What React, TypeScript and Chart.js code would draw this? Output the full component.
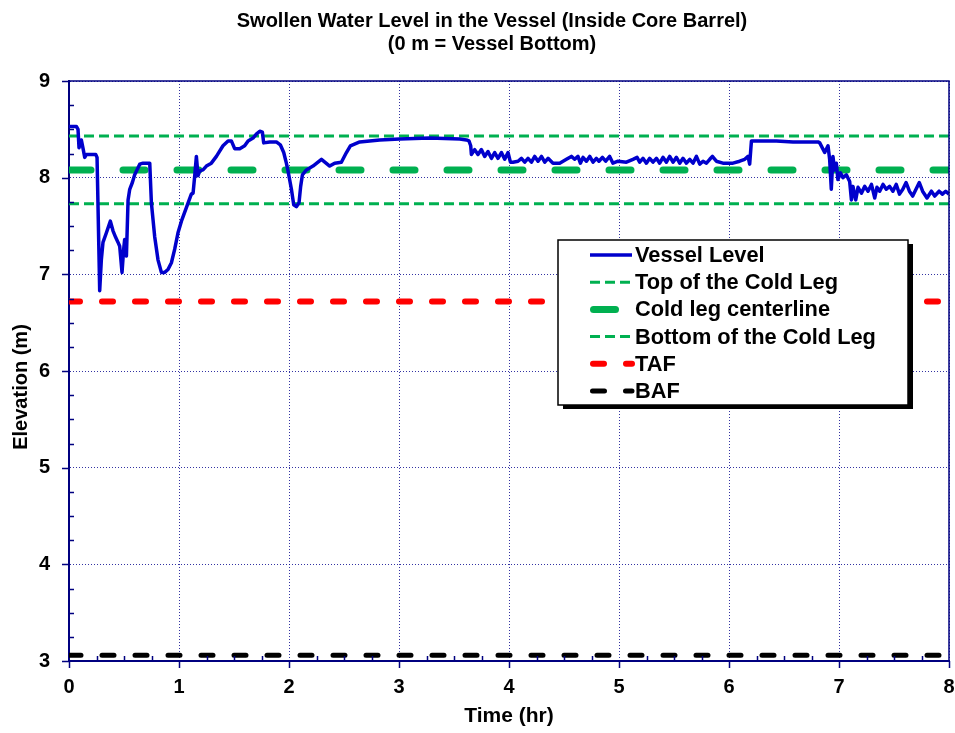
import React, { useEffect, useRef } from "react";
import { Chart, registerables } from "chart.js";

Chart.register(...registerables);

const FONT = "'Liberation Sans', Arial, Helvetica, sans-serif";

// ---- text ----
const titleLines = ["Swollen Water Level in the Vessel (Inside Core Barrel)", "(0 m = Vessel Bottom)"];
const xAxisTitle = "Time (hr)";
const yAxisTitle = "Elevation (m)";
const seriesLabels = [
  "Vessel Level",
  "Top of the Cold Leg",
  "Cold leg centerline",
  "Bottom of the Cold Leg",
  "TAF",
  "BAF",
];

// ---- axes ----
const xRange = [0, 8];
const yRange = [3, 9];
const majorStep = 1;
const minorStep = 0.25;

// ---- reference elevations (m) ----
const topColdLeg = 8.43;
const coldLegCenter = 8.08;
const bottomColdLeg = 7.73;
const tafLevel = 6.72;
const bafLevel = 3.06;

// ---- vessel swollen level: time (hr) / elevation (m) ----
const timeHr = [
  0, 0.067, 0.082, 0.091, 0.112, 0.128, 0.143, 0.158, 0.243, 0.255,
  0.279, 0.294, 0.309, 0.34, 0.376, 0.4, 0.425, 0.446, 0.461, 0.482,
  0.497, 0.506, 0.522, 0.537, 0.552, 0.576, 0.597, 0.643, 0.673, 0.734,
  0.749, 0.779, 0.809, 0.84, 0.87, 0.9, 0.931, 0.961, 0.991, 1.022,
  1.067, 1.112, 1.128, 1.143, 1.158, 1.173, 1.188, 1.218, 1.249, 1.294,
  1.34, 1.4, 1.446, 1.476, 1.506, 1.552, 1.597, 1.628, 1.673, 1.703,
  1.734, 1.758, 1.77, 1.825, 1.885, 1.921, 1.952, 1.976, 1.991, 2.022,
  2.043, 2.067, 2.091, 2.106, 2.122, 2.158, 2.218, 2.295, 2.37, 2.415,
  2.476, 2.522, 2.558, 2.643, 2.825, 3.006, 3.279, 3.552, 3.613, 3.636,
  3.652, 3.658, 3.688, 3.718, 3.749, 3.779, 3.809, 3.84, 3.87, 3.9,
  3.931, 3.961, 3.991, 4.013, 4.036, 4.082, 4.113, 4.143, 4.173, 4.204,
  4.234, 4.264, 4.295, 4.325, 4.355, 4.4, 4.461, 4.522, 4.567, 4.597,
  4.627, 4.649, 4.673, 4.704, 4.734, 4.764, 4.794, 4.818, 4.849, 4.879,
  4.915, 4.945, 4.991, 5.067, 5.127, 5.164, 5.188, 5.218, 5.249, 5.279,
  5.309, 5.34, 5.37, 5.4, 5.431, 5.461, 5.491, 5.522, 5.552, 5.582,
  5.613, 5.643, 5.673, 5.704, 5.734, 5.764, 5.795, 5.825, 5.849, 5.885,
  5.945, 6.036, 6.097, 6.143, 6.173, 6.188, 6.204, 6.431, 6.582, 6.809,
  6.825, 6.87, 6.9, 6.915, 6.93, 6.945, 6.96, 6.976, 6.99, 7.013,
  7.036, 7.067, 7.097, 7.113, 7.127, 7.152, 7.173, 7.204, 7.234, 7.264,
  7.295, 7.325, 7.345, 7.37, 7.4, 7.43, 7.46, 7.49, 7.52, 7.55,
  7.58, 7.61, 7.64, 7.67, 7.7, 7.73, 7.76, 7.8, 7.84, 7.87,
  7.91, 7.94, 7.97, 8.0,
];
const vesselLevel = [
  8.53, 8.53, 8.5, 8.31, 8.39, 8.3, 8.21, 8.24, 8.24, 8.21,
  6.83, 7.15, 7.33, 7.43, 7.55, 7.45, 7.38, 7.33, 7.29, 7.02,
  7.26, 7.36, 7.19, 7.77, 7.88, 7.95, 8.03, 8.14, 8.15, 8.15,
  7.74, 7.39, 7.15, 7.02, 7.02, 7.05, 7.12, 7.26, 7.43, 7.55,
  7.69, 7.83, 7.84, 8.02, 8.22, 8.02, 8.07, 8.08, 8.12, 8.15,
  8.22, 8.33, 8.38, 8.38, 8.3, 8.3, 8.33, 8.38, 8.41, 8.45,
  8.48, 8.47, 8.36, 8.37, 8.37, 8.34, 8.26, 8.15, 8.07, 7.88,
  7.72, 7.7, 7.74, 7.91, 8.03, 8.08, 8.12, 8.19, 8.12, 8.15,
  8.16, 8.26, 8.33, 8.37, 8.39, 8.4, 8.41, 8.4, 8.39, 8.38,
  8.33, 8.24, 8.29, 8.24, 8.29, 8.22, 8.27, 8.2, 8.26, 8.2,
  8.26, 8.19, 8.26, 8.16, 8.16, 8.17, 8.2, 8.16, 8.2, 8.16,
  8.22, 8.17, 8.22, 8.16, 8.2, 8.15, 8.15, 8.19, 8.22, 8.19,
  8.22, 8.15, 8.21, 8.17, 8.22, 8.16, 8.2, 8.17, 8.21, 8.17,
  8.22, 8.15, 8.17, 8.16, 8.19, 8.21, 8.16, 8.2, 8.15, 8.2,
  8.16, 8.2, 8.15, 8.21, 8.16, 8.22, 8.16, 8.21, 8.15, 8.2,
  8.15, 8.19, 8.15, 8.22, 8.14, 8.17, 8.15, 8.19, 8.22, 8.17,
  8.15, 8.15, 8.17, 8.19, 8.22, 8.14, 8.38, 8.38, 8.37, 8.37,
  8.36, 8.26, 8.33, 8.19, 7.88, 8.22, 8.08, 8.15, 7.98, 8.05,
  8.0, 8.03, 7.96, 7.77, 7.91, 7.77, 7.9, 7.84, 7.91, 7.86,
  7.93, 7.79, 7.9, 7.86, 7.93, 7.88, 7.91, 7.86, 7.93, 7.83,
  7.88, 7.95, 7.86, 7.81, 7.88, 7.95, 7.86, 7.79, 7.86, 7.81,
  7.86, 7.83, 7.86, 7.83,
];

// ---- styles ----
const AXIS_COLOR = "#000080";
const GRID_COLOR = "rgba(0,0,140,0.8)";
const BLUE = "#0000CC";
const GREEN = "#00B050";
const RED = "#FF0000";
const BLACK = "#000000";

const flatLine = (v: number) => [
  { x: xRange[0], y: v },
  { x: xRange[1], y: v },
];

const decorPlugin = {
  id: "decor",
  afterDraw(chart: any) {
    const { ctx, chartArea: ca } = chart;
    const xs = chart.scales.x;
    const ys = chart.scales.y;
    ctx.save();

    // frame (top & right)
    ctx.strokeStyle = AXIS_COLOR;
    ctx.lineWidth = 1.5;
    ctx.beginPath();
    ctx.moveTo(ca.left, ca.top);
    ctx.lineTo(ca.right, ca.top);
    ctx.lineTo(ca.right, ca.bottom);
    ctx.stroke();

    // tick marks
    ctx.lineWidth = 1.5;
    ctx.beginPath();
    for (let v = yRange[0]; v <= yRange[1] + 1e-9; v += minorStep) {
      const py = Math.round(ys.getPixelForValue(v)) + 0.5;
      const major = Math.abs(v - Math.round(v)) < 1e-6;
      if (major) {
        ctx.moveTo(ca.left - 7, py);
        ctx.lineTo(ca.left, py);
      } else {
        ctx.moveTo(ca.left, py);
        ctx.lineTo(ca.left + 5, py);
      }
    }
    for (let v = xRange[0]; v <= xRange[1] + 1e-9; v += minorStep) {
      const px = Math.round(xs.getPixelForValue(v)) + 0.5;
      const major = Math.abs(v - Math.round(v)) < 1e-6;
      if (major) {
        ctx.moveTo(px, ca.bottom);
        ctx.lineTo(px, ca.bottom + 7);
      } else {
        ctx.moveTo(px, ca.bottom);
        ctx.lineTo(px, ca.bottom - 5);
      }
    }
    ctx.stroke();

    // chart title
    ctx.fillStyle = "#000";
    ctx.font = `bold 20px ${FONT}`;
    ctx.textAlign = "center";
    ctx.textBaseline = "middle";
    ctx.fillText(titleLines[0], 492, 21.5);
    ctx.fillText(titleLines[1], 492, 44);

    // y axis title
    ctx.save();
    ctx.translate(21, 387);
    ctx.rotate(-Math.PI / 2);
    ctx.font = `bold 20px ${FONT}`;
    ctx.fillText(yAxisTitle, 0, 0);
    ctx.restore();

    // legend box
    const box = { left: 558, top: 240, width: 350, height: 165 };
    ctx.fillStyle = "#000";
    ctx.fillRect(box.left + 5, box.top + 4, box.width, box.height);
    ctx.fillStyle = "#fff";
    ctx.fillRect(box.left, box.top, box.width, box.height);
    ctx.strokeStyle = "#000";
    ctx.lineWidth = 1.5;
    ctx.setLineDash([]);
    ctx.strokeRect(box.left, box.top, box.width, box.height);

    chart.data.datasets.forEach((ds: any, i: number) => {
      const cy = 255 + i * 27.2;
      ctx.save();
      ctx.strokeStyle = ds.borderColor;
      ctx.lineWidth = ds.borderWidth;
      ctx.setLineDash(ds.borderDash || []);
      ctx.lineCap = ds.borderCapStyle || "butt";
      const cap = ds.borderCapStyle === "round" ? ds.borderWidth / 2 : 0;
      ctx.beginPath();
      ctx.moveTo(590 + cap, cy);
      ctx.lineTo(632, cy);
      ctx.stroke();
      ctx.restore();
      ctx.fillStyle = "#000";
      ctx.font = `bold 21.8px ${FONT}`;
      ctx.textAlign = "left";
      ctx.textBaseline = "middle";
      ctx.fillText(ds.label, 635, cy + 1);
    });

    ctx.restore();
  },
};

export default function App() {
  const ref = useRef<HTMLCanvasElement>(null);

  useEffect(() => {
    if (!ref.current) return;
    const chart = new Chart(ref.current, {
      type: "line",
      data: {
        datasets: [
          {
            label: seriesLabels[0],
            data: timeHr.map((t, i) => ({ x: t, y: vesselLevel[i] })),
            borderColor: BLUE,
            borderWidth: 3.5,
            borderJoinStyle: "round",
            borderCapStyle: "butt",
            pointRadius: 0,
            tension: 0,
          },
          {
            label: seriesLabels[1],
            data: flatLine(topColdLeg),
            borderColor: GREEN,
            borderWidth: 3,
            borderDash: [10, 5],
            pointRadius: 0,
          },
          {
            label: seriesLabels[2],
            data: flatLine(coldLegCenter),
            borderColor: GREEN,
            borderWidth: 7,
            borderDash: [22, 32],
            borderCapStyle: "round",
            pointRadius: 0,
          },
          {
            label: seriesLabels[3],
            data: flatLine(bottomColdLeg),
            borderColor: GREEN,
            borderWidth: 3,
            borderDash: [10, 5],
            pointRadius: 0,
          },
          {
            label: seriesLabels[4],
            data: flatLine(tafLevel),
            borderColor: RED,
            borderWidth: 6,
            borderDash: [11, 22],
            borderCapStyle: "round",
            pointRadius: 0,
          },
          {
            label: seriesLabels[5],
            data: flatLine(bafLevel),
            borderColor: BLACK,
            borderWidth: 5,
            borderDash: [12, 21],
            borderCapStyle: "round",
            pointRadius: 0,
          },
        ] as any,
      },
      options: {
        responsive: false,
        devicePixelRatio: 1,
        animation: false,
        events: [],
        layout: { padding: { top: 81, right: 6, bottom: 0, left: 0 } },
        plugins: {
          legend: { display: false },
          title: { display: false },
          tooltip: { enabled: false },
        },
        scales: {
          x: {
            type: "linear",
            min: xRange[0],
            max: xRange[1],
            afterFit: (s: any) => {
              s.height = 72;
              s.paddingLeft = 0;
              s.paddingRight = 0;
            },
            ticks: {
              stepSize: majorStep,
              autoSkip: false,
              padding: 14,
              color: "#000",
              font: { family: FONT, size: 20, weight: "bold" },
            },
            grid: { color: GRID_COLOR, lineWidth: 1, drawTicks: false },
            border: { display: true, color: AXIS_COLOR, width: 2, dash: [1, 2] },
            title: {
              display: true,
              text: xAxisTitle,
              color: "#000",
              font: { family: FONT, size: 21, weight: "bold" },
              padding: { top: 0, bottom: 4 },
            },
          },
          y: {
            type: "linear",
            min: yRange[0],
            max: yRange[1],
            afterFit: (s: any) => {
              s.width = 69;
              s.paddingTop = 0;
              s.paddingBottom = 0;
            },
            ticks: {
              stepSize: majorStep,
              autoSkip: false,
              padding: 19,
              color: "#000",
              font: { family: FONT, size: 20, weight: "bold" },
            },
            grid: { color: GRID_COLOR, lineWidth: 1, drawTicks: false },
            border: { display: true, color: AXIS_COLOR, width: 2, dash: [1, 2] },
          },
        },
      },
      plugins: [decorPlugin],
    } as any);
    return () => chart.destroy();
  }, []);

  return (
    <div style={{ position: "absolute", left: 0, top: 0, width: 955, height: 733, background: "#fff" }}>
      <canvas ref={ref} width={955} height={733} style={{ display: "block", width: 955, height: 733 }} />
    </div>
  );
}
